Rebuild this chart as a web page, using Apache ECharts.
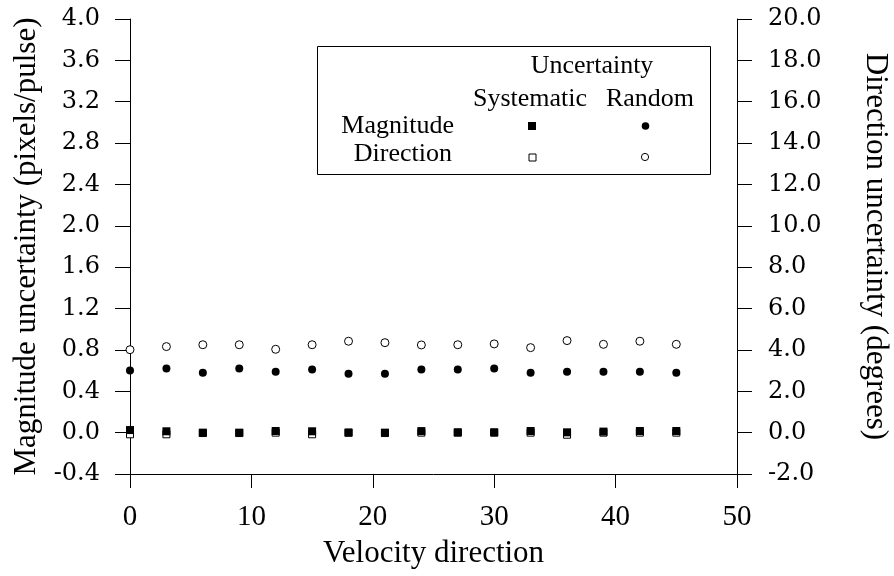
<!DOCTYPE html>
<html>
<head>
<meta charset="utf-8">
<script src="https://cdn.jsdelivr.net/npm/echarts@6/dist/echarts.min.js"></script>
<style>
html,body{margin:0;padding:0;background:#fff;}
#chart{width:894px;height:576px;}
</style>
</head>
<body>
<div id="chart"></div>
<script>
// Velocity direction (x)
var velocityDirection = [0, 3, 6, 9, 12, 15, 18, 21, 24, 27, 30, 33, 36, 39, 42, 45];
// Magnitude uncertainty (pixels/pulse) - left axis
var magnitudeSystematic = [0.025, 0.013, 0.0, 0.0, 0.016, 0.013, 0.0, 0.0, 0.015, 0.003, 0.003, 0.016, 0.003, 0.01, 0.016, 0.016];
var magnitudeRandom = [0.60, 0.62, 0.58, 0.62, 0.59, 0.61, 0.57, 0.57, 0.61, 0.61, 0.62, 0.58, 0.59, 0.59, 0.59, 0.58];
// Direction uncertainty (degrees) - right axis
var directionSystematic = [-0.08, -0.08, -0.02, -0.02, 0.0, -0.08, 0.0, -0.02, 0.0, 0.0, 0.0, 0.0, -0.1, 0.0, 0.0, 0.0];
var directionRandom = [4.01, 4.16, 4.25, 4.25, 4.03, 4.25, 4.42, 4.35, 4.24, 4.25, 4.29, 4.11, 4.45, 4.27, 4.42, 4.27];

// Text
var xTitle = 'Velocity direction';
var leftTitle = 'Magnitude uncertainty (pixels/pulse)';
var rightTitle = 'Direction uncertainty (degrees)';
var legendHeader = 'Uncertainty';
var legendCols = ['Systematic', 'Random'];
var legendRows = ['Magnitude', 'Direction'];

function pairs(xs, ys) { return xs.map(function (x, i) { return [x, ys[i]]; }); }

var serif = '"Liberation Serif", "Times New Roman", serif';
var dserif = '"DejaVu Serif", serif';
var axisLineStyle = { color: '#000', width: 1 };

var chart = echarts.init(document.getElementById('chart'), null, { renderer: 'canvas' });

var openStyle = { color: '#fff', borderColor: '#000', borderWidth: 1, opacity: 1 };
var fillStyle = { color: '#000', opacity: 1 };

chart.setOption({
  animation: false,
  backgroundColor: '#fff',
  grid: { left: 130, right: 157, top: 19, bottom: 102, containLabel: false, outerBoundsMode: 'none' },
  xAxis: {
    type: 'value', min: 0, max: 50, interval: 10,
    name: xTitle, nameLocation: 'middle', nameGap: 64,
    nameTextStyle: { fontFamily: serif, fontSize: 31, color: '#000' },
    axisLine: { show: true, onZero: false, lineStyle: axisLineStyle },
    axisTick: { show: true, inside: false, length: 14, lineStyle: axisLineStyle },
    axisLabel: { fontFamily: serif, fontSize: 29, color: '#000', margin: 29 },
    splitLine: { show: false }
  },
  yAxis: [{
    type: 'value', min: -0.4, max: 4.0, interval: 0.4, position: 'left',
    name: leftTitle, nameLocation: 'middle', nameGap: 84,
    nameTextStyle: { fontFamily: serif, fontSize: 31, color: '#000' },
    axisLine: { show: true, onZero: false, lineStyle: axisLineStyle },
    axisTick: { show: true, inside: false, length: 15, lineStyle: axisLineStyle },
    axisLabel: { fontFamily: dserif, fontSize: 24, color: '#000', margin: 30,
      formatter: function (v) { return (Math.round(v * 10) / 10).toFixed(1); } },
    splitLine: { show: false }
  }, {
    type: 'value', min: -2, max: 20, interval: 2, position: 'right',
    name: rightTitle, nameLocation: 'middle', nameGap: 123, nameRotate: -90,
    nameTextStyle: { fontFamily: serif, fontSize: 31, color: '#000' },
    axisLine: { show: true, onZero: false, lineStyle: axisLineStyle },
    axisTick: { show: true, inside: false, length: 15, lineStyle: axisLineStyle },
    axisLabel: { fontFamily: dserif, fontSize: 24, color: '#000', margin: 31,
      formatter: function (v) { return (Math.round(v * 10) / 10).toFixed(1); } },
    splitLine: { show: false }
  }],
  series: [{
    name: 'Direction Systematic', type: 'scatter', yAxisIndex: 1,
    symbol: 'rect', symbolSize: 7, itemStyle: openStyle, z: 2,
    data: pairs(velocityDirection, directionSystematic)
  }, {
    name: 'Magnitude Systematic', type: 'scatter', yAxisIndex: 0,
    symbol: 'rect', symbolSize: 8, itemStyle: fillStyle, z: 3,
    data: pairs(velocityDirection, magnitudeSystematic)
  }, {
    name: 'Magnitude Random', type: 'scatter', yAxisIndex: 0,
    symbol: 'circle', symbolSize: 8, itemStyle: fillStyle, z: 3,
    data: pairs(velocityDirection, magnitudeRandom)
  }, {
    name: 'Direction Random', type: 'scatter', yAxisIndex: 1,
    symbol: 'circle', symbolSize: 8, itemStyle: openStyle, z: 3,
    data: pairs(velocityDirection, directionRandom)
  }],
  graphic: [
    { type: 'rect', left: 317, top: 46, shape: { width: 393, height: 128 },
      style: { fill: '#fff', stroke: '#000', lineWidth: 1 }, z: 10 },
    { type: 'text', x: 592, y: 66, z: 11,
      style: { text: legendHeader, font: '26px ' + serif, fill: '#000', align: 'center', verticalAlign: 'middle' } },
    { type: 'text', x: 530, y: 99, z: 11,
      style: { text: legendCols[0], font: '26px ' + serif, fill: '#000', align: 'center', verticalAlign: 'middle' } },
    { type: 'text', x: 650, y: 99, z: 11,
      style: { text: legendCols[1], font: '26px ' + serif, fill: '#000', align: 'center', verticalAlign: 'middle' } },
    { type: 'text', x: 454, y: 126, z: 11,
      style: { text: legendRows[0], font: '26px ' + serif, fill: '#000', align: 'right', verticalAlign: 'middle' } },
    { type: 'text', x: 452, y: 154, z: 11,
      style: { text: legendRows[1], font: '26px ' + serif, fill: '#000', align: 'right', verticalAlign: 'middle' } },
    { type: 'rect', z: 11, shape: { x: 528, y: 122, width: 8, height: 8 }, style: { fill: '#000' } },
    { type: 'circle', z: 11, shape: { cx: 645.5, cy: 126, r: 3.8 }, style: { fill: '#000' } },
    { type: 'rect', z: 11, shape: { x: 529, y: 154, width: 7, height: 7 }, style: { fill: '#fff', stroke: '#000', lineWidth: 1 } },
    { type: 'circle', z: 11, shape: { cx: 645, cy: 157, r: 3.6 }, style: { fill: '#fff', stroke: '#000', lineWidth: 1 } }
  ]
});
</script>
</body>
</html>
